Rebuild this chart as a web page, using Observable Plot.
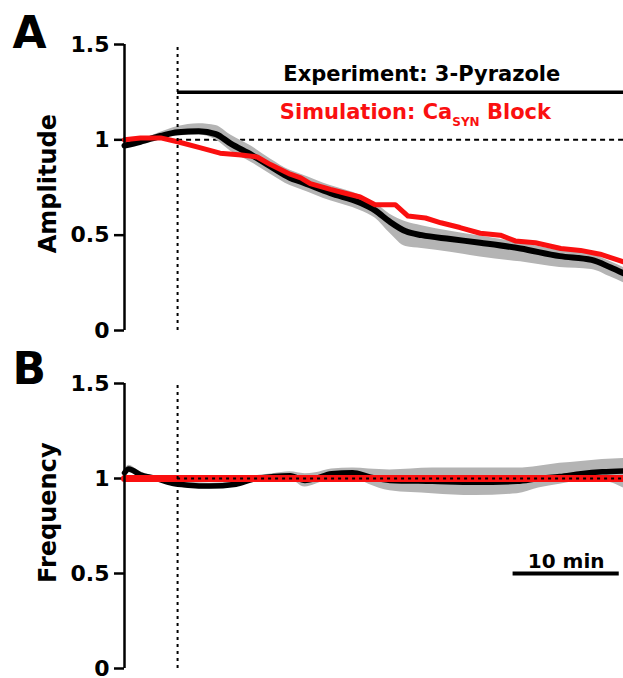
<!DOCTYPE html>
<html>
<head>
<meta charset="utf-8">
<script src="https://cdn.jsdelivr.net/npm/d3@7"></script>
<script src="https://cdn.jsdelivr.net/npm/@observablehq/plot@0.6"></script>
<style>
  body { margin: 0; background: #fff; }
  #chart { width: 623px; }
  #chart svg { display: block; }
  #chart g[aria-label^="y-axis"] path, #chart g[aria-label^="y-axis"] line { stroke-width: 2.5px; }
  #chart g[aria-label^="y-axis"] text, #chart g[aria-label^="y-axis"] { font-size: 22px !important; font-weight: bold; }
</style>
</head>
<body>
<div id="chart"></div>
<script>
// ---------- data (time in minutes, 0 = drug application) ----------
const yTicks = [0, 0.5, 1, 1.5];

// Panel A: amplitude, experiment (mean and band)
const ampExpTime = [-5, -3.5, -1.6, 0, 2, 3.6, 5, 7, 8.75, 10.6, 11.6, 14.4, 17.2, 18.6, 20, 21.5, 23, 25.7, 28.5, 32.3, 36, 39, 40.8, 42];
const ampExpMean = [0.97, 0.99, 1.02, 1.04, 1.045, 1.03, 0.98, 0.92, 0.86, 0.80, 0.78, 0.72, 0.67, 0.63, 0.57, 0.52, 0.50, 0.48, 0.46, 0.43, 0.39, 0.37, 0.33, 0.30];
const ampExpLow  = [0.96, 0.98, 1.01, 1.02, 1.025, 1.0, 0.94, 0.88, 0.82, 0.76, 0.74, 0.68, 0.63, 0.59, 0.51, 0.44, 0.43, 0.41, 0.385, 0.36, 0.33, 0.32, 0.28, 0.25];
const ampExpHigh = [0.98, 1.0, 1.04, 1.07, 1.085, 1.075, 1.025, 0.965, 0.90, 0.84, 0.82, 0.76, 0.71, 0.67, 0.61, 0.57, 0.55, 0.52, 0.495, 0.46, 0.42, 0.40, 0.36, 0.33];

// Panel A: amplitude, simulation
const ampSimTime = [-5, -3.5, -1.6, 0, 2, 4, 6, 7.5, 8.75, 10.6, 11.6, 12.5, 14.4, 15.8, 17.2, 18.6, 20.5, 21.7, 23.35, 24.8, 26.6, 28.5, 30.4, 31.8, 33.7, 36.1, 37.95, 39.8, 42];
const ampSimValue = [1.0, 1.01, 1.01, 0.99, 0.96, 0.93, 0.92, 0.91, 0.87, 0.82, 0.80, 0.77, 0.74, 0.72, 0.70, 0.66, 0.66, 0.60, 0.59, 0.565, 0.54, 0.51, 0.50, 0.47, 0.46, 0.43, 0.42, 0.40, 0.36];

// Panel B: frequency, experiment
const freqExpTime = [-5, -4.6, -3.5, -2, -0.5, 1, 3, 5.5, 7, 9, 10.6, 12, 13, 14.5, 16.5, 18, 20, 24, 28, 32, 34, 36, 38, 40, 42];
const freqExpMean = [1.03, 1.05, 1.02, 1.0, 0.975, 0.965, 0.96, 0.97, 0.995, 1.01, 1.015, 0.99, 1.0, 1.025, 1.03, 1.01, 0.99, 0.985, 0.98, 0.985, 1.0, 1.01, 1.025, 1.035, 1.04];
const freqExpLow  = [1.015, 1.03, 1.005, 0.99, 0.965, 0.95, 0.945, 0.955, 0.98, 0.995, 0.995, 0.955, 0.97, 1.0, 1.005, 0.97, 0.935, 0.92, 0.91, 0.92, 0.95, 0.97, 0.985, 0.985, 0.95];
const freqExpHigh = [1.045, 1.07, 1.035, 1.01, 0.985, 0.98, 0.975, 0.985, 1.01, 1.025, 1.035, 1.025, 1.03, 1.05, 1.055, 1.05, 1.045, 1.055, 1.055, 1.055, 1.065, 1.08, 1.09, 1.1, 1.105];

// Panel B: frequency, simulation
const freqSimTime = [-5, 42];
const freqSimValue = [1.0, 1.0];

// time window & annotations
const timeDomain = [-5, 42];
const drugStart = 0, drugEnd = 42;
const barLevel = 1.25;
const expLabel = "Experiment: 3-Pyrazole";
const simLabel = "Simulation: CaSYN Block";
const scaleBar = {x1: 31.6, x2: 41.6, y: 0.5, label: "10 min"};

// ---------- drawing ----------
const fontFamily = "'DejaVu Sans', 'Liberation Sans', sans-serif";
const red = "#fa1010", gray = "#b4b4b4";

const rows = (t, v, lo, hi) => t.map((x, i) => ({t: x, v: v[i], lo: lo ? lo[i] : undefined, hi: hi ? hi[i] : undefined}));

function panel({height, marginTop, letter, letterDy, label, labelY, marks}) {
  return Plot.plot({
    width: 623, height, marginLeft: 124, marginRight: 0, marginTop, marginBottom: 10,
    x: {domain: timeDomain, axis: null},
    y: {domain: [0, 1.5], ticks: yTicks, tickSize: 10, tickPadding: 5, tickFormat: d => String(d), label: null},
    style: {fontFamily, fontWeight: "bold", fontSize: "22px", color: "black", background: "white", overflow: "visible"},
    marks: [
      ...marks,
      Plot.ruleX([timeDomain[0]], {y1: 0, y2: 1.5, stroke: "black", strokeWidth: 2.5}),
      Plot.ruleX([drugStart], {y1: 0, y2: 1.5, stroke: "black", strokeWidth: 2, strokeDasharray: "3,4"}),
      Plot.text([label], {text: d => d, y: () => labelY, frameAnchor: "left", dx: -69, rotate: -90, textAnchor: "middle", lineAnchor: "bottom", fontSize: 24, fill: "black"}),
      Plot.text([letter], {text: d => d, frameAnchor: "top-left", dx: -112, dy: letterDy, textAnchor: "start", lineAnchor: "bottom", fontSize: 44, fill: "black"})
    ]
  });
}

const ampExp = rows(ampExpTime, ampExpMean, ampExpLow, ampExpHigh);
const ampSim = rows(ampSimTime, ampSimValue);
const freqExp = rows(freqExpTime, freqExpMean, freqExpLow, freqExpHigh);
const freqSim = rows(freqSimTime, freqSimValue);

const plotA = panel({
  height: 340, marginTop: 44, letter: "A", letterDy: 3.5, label: "Amplitude", labelY: 0.77,
  marks: [
    Plot.ruleY([1], {x1: drugStart, x2: drugEnd, stroke: "black", strokeWidth: 2, strokeDasharray: "5,4"}),
    Plot.ruleY([barLevel], {x1: drugStart, x2: drugEnd, stroke: "black", strokeWidth: 3.5}),
    Plot.areaY(ampExp, {x: "t", y1: "lo", y2: "hi", fill: gray, curve: "monotone-x"}),
    Plot.line(ampExp, {x: "t", y: "v", stroke: "black", strokeWidth: 6, curve: "monotone-x"}),
    Plot.line(ampSim, {x: "t", y: "v", stroke: red, strokeWidth: 5}),
    Plot.text([expLabel], {text: d => d, x: () => 23, y: () => 1.31, textAnchor: "middle", lineAnchor: "bottom", fontSize: 21, fill: "black"}),
    Plot.text([simLabel], {text: d => d, x: () => 22.4, y: () => 1.11, textAnchor: "middle", lineAnchor: "bottom", fontSize: 21, fill: red})
  ]
});

const plotB = panel({
  height: 338, marginTop: 43, letter: "B", letterDy: 0, label: "Frequency", labelY: 0.82,
  marks: [
    Plot.areaY(freqExp, {x: "t", y1: "lo", y2: "hi", fill: gray, curve: "monotone-x"}),
    Plot.line(freqExp, {x: "t", y: "v", stroke: "black", strokeWidth: 5.5, curve: "monotone-x"}),
    Plot.line(freqSim, {x: "t", y: "v", stroke: red, strokeWidth: 7}),
    Plot.ruleY([1], {x1: drugStart, x2: drugEnd, stroke: "black", strokeWidth: 2, strokeDasharray: "3,4"}),
    Plot.ruleY([scaleBar.y], {x1: scaleBar.x1, x2: scaleBar.x2, stroke: "black", strokeWidth: 4}),
    Plot.text([scaleBar.label], {text: d => d, x: () => (scaleBar.x1 + scaleBar.x2) / 2, y: () => scaleBar.y + 0.028, textAnchor: "middle", lineAnchor: "bottom", fontSize: 20, fill: "black"})
  ]
});

// subscript for Ca_SYN
plotA.querySelectorAll("text").forEach(el => {
  if (el.textContent === simLabel) {
    el.textContent = "";
    el.appendChild(document.createTextNode("Simulation: Ca"));
    const sub = document.createElementNS("http://www.w3.org/2000/svg", "tspan");
    sub.setAttribute("font-size", "12");
    sub.setAttribute("dy", "7");
    sub.textContent = "SYN";
    el.appendChild(sub);
    const rest = document.createElementNS("http://www.w3.org/2000/svg", "tspan");
    rest.setAttribute("dy", "-7");
    rest.textContent = " Block";
    el.appendChild(rest);
  }
});

const chart = document.getElementById("chart");
chart.appendChild(plotA);
chart.appendChild(plotB);
</script>
</body>
</html>
